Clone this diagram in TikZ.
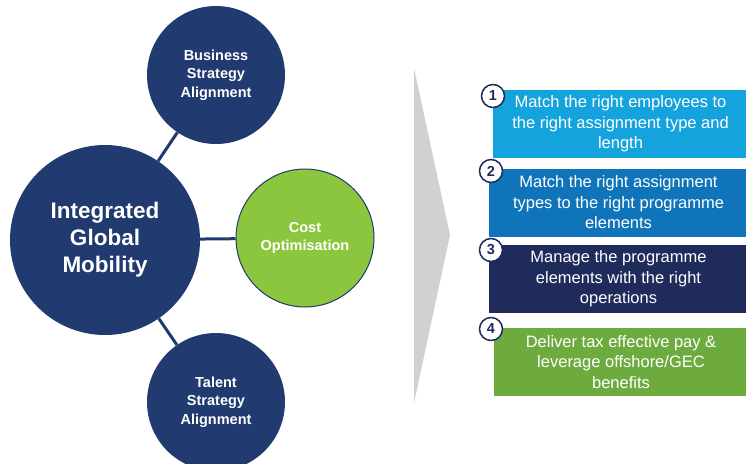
\documentclass[tikz,border=0pt]{standalone}
\usepackage{fontspec}
\setmainfont{Liberation Sans}
\definecolor{navy}{HTML}{213A6F}
\definecolor{darknavy}{HTML}{1F2B5B}
\definecolor{costgreen}{HTML}{8CC63F}
\definecolor{boxblue}{HTML}{15A3DD}
\definecolor{boxmid}{HTML}{1074BA}
\definecolor{boxgreen}{HTML}{6EAB3F}
\definecolor{chevgray}{HTML}{D0D1D1}
\tikzset{
  bigball/.style={circle,fill=navy,text=white,align=center,font=\bfseries\fontsize{22.5}{27}\selectfont,minimum size=190pt,inner sep=0pt},
  smallball/.style={circle,fill=navy,text=white,align=center,font=\bfseries\fontsize{14.5}{18.5}\selectfont,minimum size=138pt,inner sep=0pt},
  link/.style={navy,line width=3pt},
  stepbox/.style={rectangle,text=white,align=center,minimum height=68pt,inner sep=0pt,font=\fontsize{16.5}{20.5}\selectfont},
  badge/.style={circle,fill=white,draw=darknavy,line width=1.5pt,minimum size=23pt,inner sep=0pt,font=\bfseries\fontsize{14.5}{14.5}\selectfont,text=darknavy}
}
\begin{document}
\begin{tikzpicture}[x=1pt,y=-1pt]
\useasboundingbox (0,0) rectangle (746,463);
\clip (0,0) rectangle (746,463);

% circles on the left
\node[bigball] (igm) at (105,240) {Integrated\\Global\\Mobility};
\node[smallball] (bsa) at (216,75) {Business\\Strategy\\Alignment};
\node[smallball,fill=costgreen,draw=navy,line width=1pt,font=\bfseries\fontsize{14.5}{18}\selectfont] (cost) at (305,238) {Cost\\Optimisation};
\node[smallball] (tsa) at (216,402) {Talent\\Strategy\\Alignment};
\draw[link] (igm) -- (bsa);
\draw[link] (igm) -- (cost);
\draw[link] (igm) -- (tsa);

% chevron
\fill[chevgray] (414,68) -- (450,235) -- (414,403) -- cycle;

% steps on the right
\node[stepbox,fill=boxblue,minimum width=255pt] (s1) at (620.5,124) {Match the right employees to\\the right assignment type and\\length};
\node[stepbox,fill=boxmid,minimum width=259pt] (s2) at (618.5,202.5) {Match the right assignment\\types to the right programme\\elements};
\node[stepbox,fill=darknavy,minimum width=259pt] (s3) at (618.5,279) {Manage the programme\\elements with the right\\operations};
\node[stepbox,fill=boxgreen,minimum width=254pt] (s4) at (621,362) {Deliver tax effective pay \&\\leverage offshore/GEC\\benefits};
\node[badge] (n1) at (493,96) {1};
\node[badge] (n2) at (491,171) {2};
\node[badge] (n3) at (491,250) {3};
\node[badge] (n4) at (491,329) {4};
\end{tikzpicture}
\end{document}
